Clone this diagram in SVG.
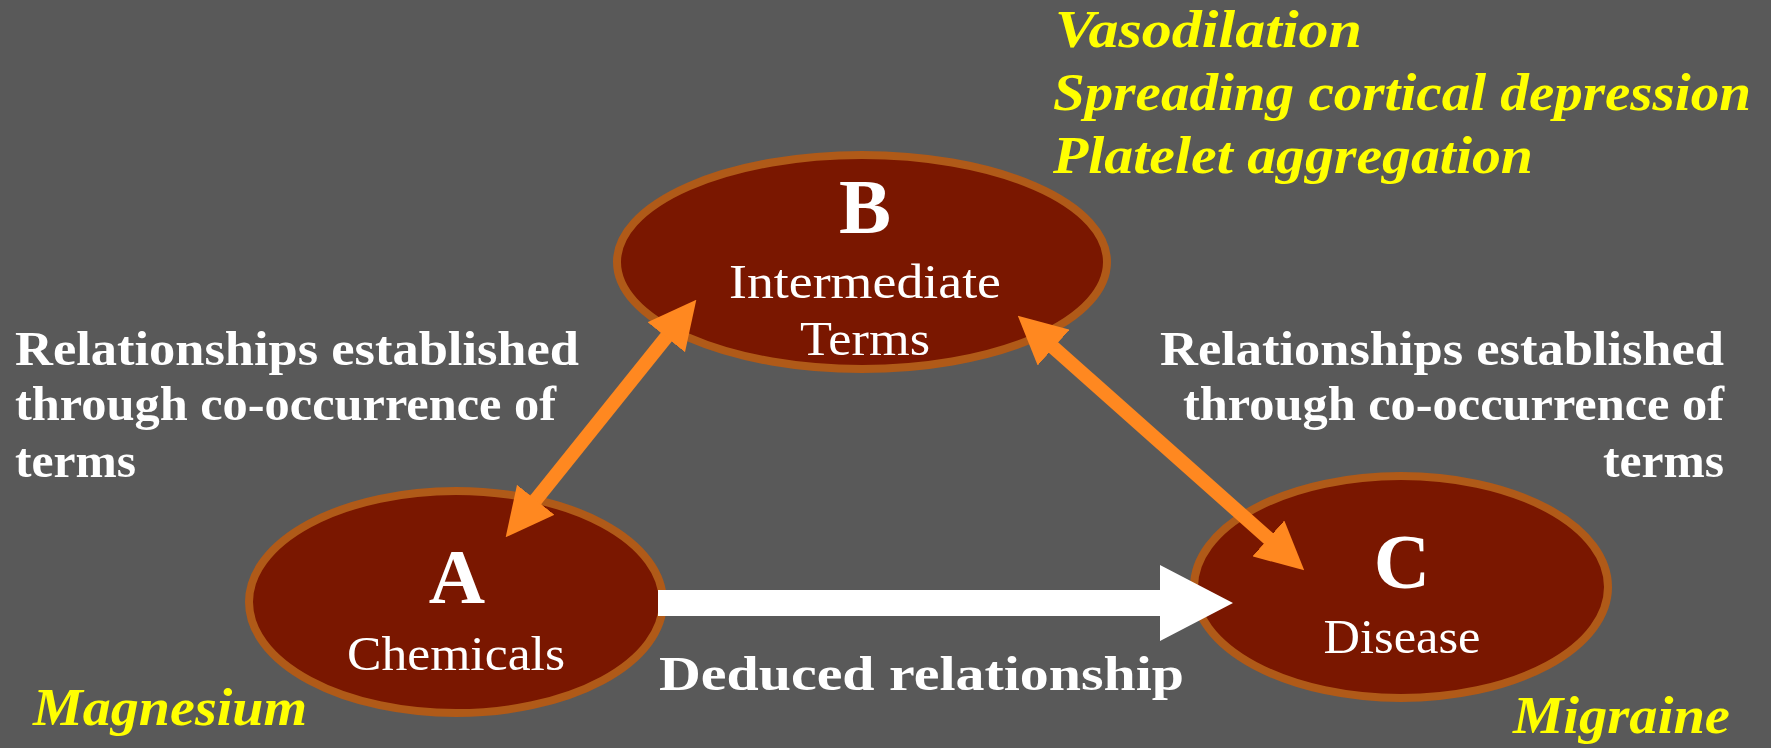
<svg xmlns="http://www.w3.org/2000/svg" width="1771" height="748" viewBox="0 0 1771 748">
  <style>
    .node ellipse { fill: #7A1700; stroke: #B05A18; stroke-width: 8; }
    .letter { font-family: "Liberation Serif", serif; font-weight: bold; font-size: 78px; fill: #FFFFFF; text-anchor: middle; }
    .sub { font-family: "Liberation Serif", serif; font-size: 48px; fill: #FFFFFF; text-anchor: middle; }
    .lbl { font-family: "Liberation Serif", serif; font-weight: bold; font-size: 48px; fill: #FFFFFF; }
    .yel { font-family: "Liberation Serif", serif; font-weight: bold; font-style: italic; font-size: 52px; fill: #FFFF00; }
    .oarrow { stroke: #FF8820; stroke-width: 14; fill: none; marker-start: url(#oh); marker-end: url(#oh); }
  </style>
  <defs>
    <marker id="oh" viewBox="0 -24 48 48" refX="1" refY="0" markerWidth="48" markerHeight="48" markerUnits="userSpaceOnUse" orient="auto-start-reverse">
      <path d="M0,-24 L48,0 L0,24 Z" fill="#FF8820"/>
    </marker>
  </defs>
  <rect x="0" y="0" width="1771" height="748" fill="#595959"/>

  <g id="node-B" class="node">
    <ellipse cx="862" cy="262" rx="245" ry="107"/>
    <text class="letter" x="865" y="233">B</text>
    <text class="sub" x="865" y="298" textLength="272" lengthAdjust="spacingAndGlyphs">Intermediate</text>
    <text class="sub" x="865" y="355" textLength="130" lengthAdjust="spacingAndGlyphs">Terms</text>
  </g>
  <g id="node-A" class="node">
    <ellipse cx="456" cy="602" rx="207" ry="111"/>
    <text class="letter" x="457" y="603">A</text>
    <text class="sub" x="456" y="670" textLength="218" lengthAdjust="spacingAndGlyphs">Chemicals</text>
  </g>
  <g id="node-C" class="node">
    <ellipse cx="1401" cy="587" rx="207" ry="111"/>
    <text class="letter" x="1402" y="588">C</text>
    <text class="sub" x="1402" y="653" textLength="157" lengthAdjust="spacingAndGlyphs">Disease</text>
  </g>

  <g id="connectors">
    <line class="oarrow" x1="535.1" y1="500.6" x2="666.9" y2="336.4"/>
    <line class="oarrow" x1="1052.9" y1="346.9" x2="1269.1" y2="539.1"/>
    <path d="M658,590 H1160 V565 L1233,603 L1160,641 V616 H658 Z" fill="#FFFFFF"/>
  </g>

  <g id="labels">
    <text class="lbl" x="15" y="365" textLength="564" lengthAdjust="spacingAndGlyphs">Relationships established</text>
    <text class="lbl" x="15" y="420" textLength="541" lengthAdjust="spacingAndGlyphs">through co-occurrence of</text>
    <text class="lbl" x="15" y="477" textLength="121" lengthAdjust="spacingAndGlyphs">terms</text>

    <text class="lbl" x="1724" y="365" text-anchor="end" textLength="564" lengthAdjust="spacingAndGlyphs">Relationships established</text>
    <text class="lbl" x="1724" y="420" text-anchor="end" textLength="541" lengthAdjust="spacingAndGlyphs">through co-occurrence of</text>
    <text class="lbl" x="1724" y="477" text-anchor="end" textLength="121" lengthAdjust="spacingAndGlyphs">terms</text>

    <text class="lbl" x="659" y="690" font-size="52" textLength="525" lengthAdjust="spacingAndGlyphs">Deduced relationship</text>

    <text class="yel" x="1055" y="47" textLength="307" lengthAdjust="spacingAndGlyphs">Vasodilation</text>
    <text class="yel" x="1053" y="110" textLength="698" lengthAdjust="spacingAndGlyphs">Spreading cortical depression</text>
    <text class="yel" x="1053" y="173" textLength="480" lengthAdjust="spacingAndGlyphs">Platelet aggregation</text>
    <text class="yel" x="33" y="725" textLength="274" lengthAdjust="spacingAndGlyphs">Magnesium</text>
    <text class="yel" x="1513" y="733" textLength="217" lengthAdjust="spacingAndGlyphs">Migraine</text>
  </g>
</svg>
